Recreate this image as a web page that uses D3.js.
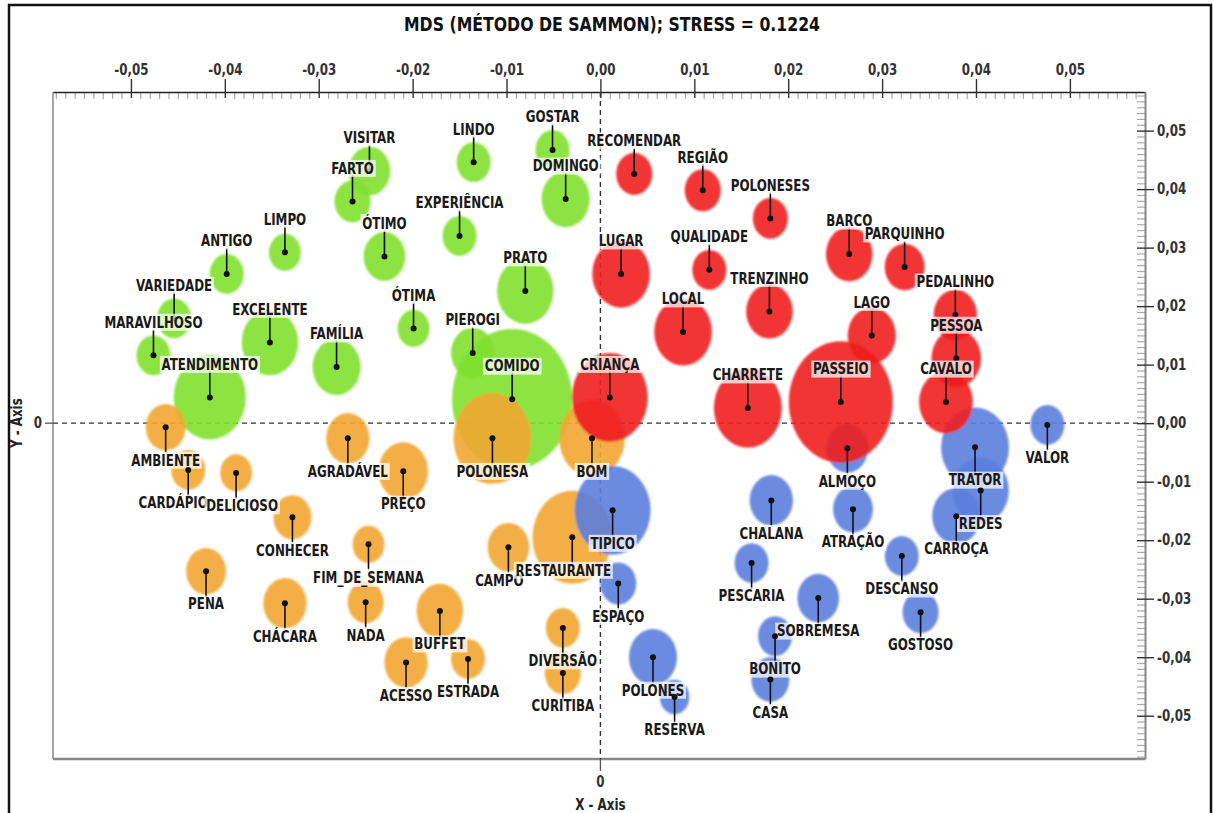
<!DOCTYPE html>
<html><head><meta charset="utf-8">
<script src="https://cdn.jsdelivr.net/npm/d3@7"></script>
<style>
body{margin:0;background:#fff}
svg{display:block}
text{font-family:"Liberation Sans Narrow","Arial Narrow","DejaVu Sans Condensed","Roboto Condensed","Liberation Sans",sans-serif;font-weight:bold}
</style></head><body>
<svg id="c" width="1213" height="813"></svg>
<script>
// ---- data (MDS coordinates and word frequency) ----
const greenWords = ["GOSTAR","DOMINGO","LINDO","VISITAR","FARTO","EXPERIÊNCIA","ÓTIMO","LIMPO","ANTIGO","VARIEDADE","MARAVILHOSO","EXCELENTE","FAMÍLIA","ÓTIMA","PRATO","PIEROGI","COMIDO","ATENDIMENTO"];
const greenX = [-0.0051,-0.0037,-0.0135,-0.0246,-0.0264,-0.0150,-0.0230,-0.0336,-0.0398,-0.0454,-0.0476,-0.0352,-0.0281,-0.0199,-0.0080,-0.0136,-0.0094,-0.0416];
const greenY = [0.0467,0.0383,0.0446,0.0431,0.0379,0.0320,0.0285,0.0292,0.0255,0.0179,0.0116,0.0138,0.0096,0.0162,0.0226,0.0120,0.0041,0.0044];
const greenF = [8,16,8,12,9,8,12,7,8,8,8,22,16,7,22,13,100,36];

const orangeWords = ["AMBIENTE","CARDÁPIO","DELICIOSO","AGRADÁVEL","PREÇO","POLONESA","BOM","CONHECER","FIM_DE_SEMANA","PENA","CHÁCARA","NADA","BUFFET","ACESSO","ESTRADA","CAMPO","RESTAURANTE","DIVERSÃO","CURITIBA"];
const orangeX = [-0.0463,-0.0439,-0.0388,-0.0269,-0.0210,-0.0115,-0.0009,-0.0328,-0.0247,-0.0420,-0.0336,-0.0250,-0.0171,-0.0207,-0.0141,-0.0098,-0.0030,-0.0040,-0.0040];
const orangeY = [-0.0007,-0.0080,-0.0085,-0.0026,-0.0082,-0.0026,-0.0026,-0.0161,-0.0207,-0.0253,-0.0308,-0.0306,-0.0321,-0.0409,-0.0403,-0.0212,-0.0195,-0.0350,-0.0427];
const orangeF = [11,8,7,13,17,42,30,10,7,11,13,9,15,13,8,12,44,8,9];

const blueWords = ["VALOR","TRATOR","REDES","CARROÇA","ALMOÇO","CHALANA","ATRAÇÃO","DESCANSO","GOSTOSO","PESCARIA","SOBREMESA","BONITO","CASA","POLONES","RESERVA","ESPAÇO","TIPICO"];
const blueX = [0.0476,0.0399,0.0405,0.0379,0.0263,0.0182,0.0269,0.0321,0.0341,0.0161,0.0232,0.0186,0.0181,0.0056,0.0079,0.0019,0.0013];
const blueY = [-0.0003,-0.0041,-0.0115,-0.0159,-0.0043,-0.0132,-0.0147,-0.0227,-0.0323,-0.0239,-0.0299,-0.0364,-0.0438,-0.0400,-0.0468,-0.0274,-0.0149];
const blueF = [8,32,22,16,12,13,11,8,9,8,12,8,10,16,6,9,40];

const redWords = ["RECOMENDAR","REGIÃO","POLONESES","LUGAR","QUALIDADE","TRENZINHO","LOCAL","BARCO","PARQUINHO","PEDALINHO","PESSOA","LAGO","CAVALO","PASSEIO","CHARRETE","CRIANÇA"];
const redX = [0.0036,0.0109,0.0181,0.0022,0.0116,0.0180,0.0088,0.0265,0.0324,0.0378,0.0379,0.0289,0.0368,0.0256,0.0157,0.0010];
const redY = [0.0426,0.0398,0.0350,0.0255,0.0262,0.0191,0.0156,0.0289,0.0267,0.0185,0.0111,0.0150,0.0036,0.0036,0.0026,0.0044];
const redF = [9,9,8.5,23,8,15,23,15,11,13,17,16,20,75,32,40];

const axisTicks = [-0.05,-0.04,-0.03,-0.02,-0.01,0,0.01,0.02,0.03,0.04,0.05];
const titleText = "MDS (MÉTODO DE SAMMON); STRESS = 0.1224";

// ---- layout ----
const svg = d3.select("#c");
const plot = {l:53, r:1145, t:92, b:759};
const x = d3.scaleLinear().domain([-0.0583, 0.0580]).range([plot.l, plot.r]);
const y = d3.scaleLinear().domain([0.0566, -0.0574]).range([plot.t, plot.b]);
const rS = d3.scaleSqrt().domain([0, 100]).range([0, 60]);
const stretch = 1.17;
const narrow = 0.88;

const groups = [
  {words:greenWords, xs:greenX, ys:greenY, fs:greenF, color:"#80E02E", side:-1},
  {words:orangeWords, xs:orangeX, ys:orangeY, fs:orangeF, color:"#F2A632", side:1},
  {words:blueWords, xs:blueX, ys:blueY, fs:blueF, color:"#5B7EDD", side:1},
  {words:redWords, xs:redX, ys:redY, fs:redF, color:"#EF1C1E", side:-1}
];
const labelDx = {"RESTAURANTE":-9, "CAMPO":-9, "CARDÁPIO":-15, "DELICIOSO":6};

const defs = svg.append("defs");
defs.append("filter").attr("id","soft").attr("x","-20%").attr("y","-20%").attr("width","140%").attr("height","140%")
  .append("feGaussianBlur").attr("stdDeviation",0.9);

// outer frame
svg.append("rect").attr("x",9).attr("y",5).attr("width",1202).attr("height",830)
  .attr("fill","none").attr("stroke","#111").attr("stroke-width",2.5);

// helper: horizontally condensed text
function ctext(parent, px, py, str, size, fill, sx) {
  return parent.append("text")
    .attr("transform",`translate(${px},${py}) scale(${sx||narrow},1)`)
    .attr("text-anchor","middle").attr("dominant-baseline","central")
    .attr("font-size",size).attr("fill",fill).text(str);
}

// title
ctext(svg, 612, 24, titleText, 19, "#111", 0.92);

// plot frame
svg.append("line").attr("x1",plot.l).attr("x2",plot.l).attr("y1",plot.t).attr("y2",plot.b).attr("stroke","#888").attr("stroke-width",1.5);
svg.append("line").attr("x1",plot.l).attr("x2",plot.r).attr("y1",plot.b).attr("y2",plot.b).attr("stroke","#888").attr("stroke-width",2.5);

const fmt = v => d3.format(".2f")(v).replace(".", ",").replace("−","-");
const minor = d3.range(-58, 59).filter(i => i % 10 !== 0).map(i => i/1000);

// top axis minor ticks
svg.append("g").attr("transform",`translate(0,${plot.t})`)
  .call(d3.axisBottom(x).tickValues(minor.filter(v=>v>=x.domain()[0]&&v<=x.domain()[1])).tickSize(7).tickFormat(""))
  .call(g=>{g.select(".domain").remove(); g.selectAll("line").attr("stroke","#aaa").attr("stroke-width",1.2);});
// right axis minor ticks
svg.append("g").attr("transform",`translate(${plot.r},0)`)
  .call(d3.axisLeft(y).tickValues(minor.filter(v=>v<=y.domain()[0]&&v>=y.domain()[1])).tickSize(8).tickFormat(""))
  .call(g=>{g.select(".domain").remove(); g.selectAll("line").attr("stroke","#aaa").attr("stroke-width",1.2);});

// top axis
svg.append("g").attr("transform",`translate(0,${plot.t})`)
  .call(d3.axisTop(x).tickValues(axisTicks).tickSizeInner(13).tickSizeOuter(0).tickPadding(4).tickFormat(fmt))
  .call(g=>{
    g.select(".domain").attr("stroke","#222").attr("stroke-width",1.6);
    g.selectAll(".tick line").attr("y1",6).attr("stroke","#333").attr("stroke-width",1.4);
    g.selectAll(".tick text").attr("font-size",15).attr("fill","#333")
      .attr("transform",`scale(${narrow},1)`);
  });
// right axis
svg.append("g").attr("transform",`translate(${plot.r},0)`)
  .call(d3.axisRight(y).tickValues(axisTicks).tickSizeInner(9).tickSizeOuter(0).tickPadding(3).tickFormat(fmt))
  .call(g=>{
    g.select(".domain").attr("stroke","#888").attr("stroke-width",2);
    g.selectAll(".tick line").attr("x1",-8).attr("stroke","#333").attr("stroke-width",1.4);
    g.selectAll(".tick text").attr("font-size",15).attr("fill","#333")
      .attr("x", 12/narrow).attr("transform",`scale(${narrow},1)`);
  });

// zero reference dashed lines
svg.append("line").attr("x1",plot.l).attr("x2",plot.r).attr("y1",y(0)).attr("y2",y(0))
  .attr("stroke","#333").attr("stroke-width",1.4).attr("stroke-dasharray","5,4");
svg.append("line").attr("x1",x(0)).attr("x2",x(0)).attr("y1",plot.t).attr("y2",plot.b)
  .attr("stroke","#333").attr("stroke-width",1.4).attr("stroke-dasharray","5,4");

// zero ticks on left & bottom, axis titles
svg.append("line").attr("x1",plot.l-8).attr("x2",plot.l).attr("y1",y(0)).attr("y2",y(0)).attr("stroke","#555").attr("stroke-width",1.3);
ctext(svg, plot.l-15, y(0), "0", 15, "#333");
svg.append("line").attr("x1",x(0)).attr("x2",x(0)).attr("y1",plot.b).attr("y2",plot.b+12).attr("stroke","#555").attr("stroke-width",1.3);
ctext(svg, x(0), plot.b+23, "0", 15, "#333");
ctext(svg, x(0), plot.b+46, "X - Axis", 15, "#222");
svg.append("text").attr("transform",`translate(17,${y(0)}) rotate(-90) scale(${narrow},1)`)
  .attr("text-anchor","middle").attr("dominant-baseline","central").attr("font-size",15).attr("fill","#222").text("Y - Axis");

// bubbles
const bubbleLayer = svg.append("g").attr("filter","url(#soft)");
groups.forEach(gr => {
  const pts = gr.words.map((w,i)=>({w, x:gr.xs[i], y:gr.ys[i], f:gr.fs[i]}));
  bubbleLayer.append("g").selectAll("ellipse").data(pts).join("ellipse")
    .attr("cx",d=>x(d.x)).attr("cy",d=>y(d.y))
    .attr("rx",d=>rS(d.f)).attr("ry",d=>rS(d.f)*stretch)
    .attr("fill",gr.color).attr("fill-opacity",0.9);
});

// dots, leaders, labels
const labLayer = svg.append("g");
groups.forEach(gr => {
  gr.words.forEach((w,i) => {
    const cx = x(gr.xs[i]), cy = y(gr.ys[i]);
    const ly = cy + gr.side*33;
    const lx = cx + (labelDx[w]||0);
    const g = labLayer.append("g");
    g.append("line").attr("x1",cx).attr("x2",cx).attr("y1",cy).attr("y2",ly - gr.side*7)
      .attr("stroke","#111").attr("stroke-width",1.6);
    g.append("circle").attr("cx",cx).attr("cy",cy).attr("r",3).attr("fill","#111");
    const lg = g.append("g").attr("transform",`translate(${lx},${ly}) scale(${narrow},1)`);
    const rect = lg.append("rect");
    const t = lg.append("text").attr("text-anchor","middle").attr("dominant-baseline","central")
      .attr("font-size",15).attr("fill","#1a1a1a").text(w);
    const bb = t.node().getBBox();
    rect.attr("x",bb.x-2).attr("y",bb.y).attr("width",bb.width+4).attr("height",bb.height)
      .attr("fill","#fff").attr("fill-opacity",0.72);
  });
});
</script></body></html>
